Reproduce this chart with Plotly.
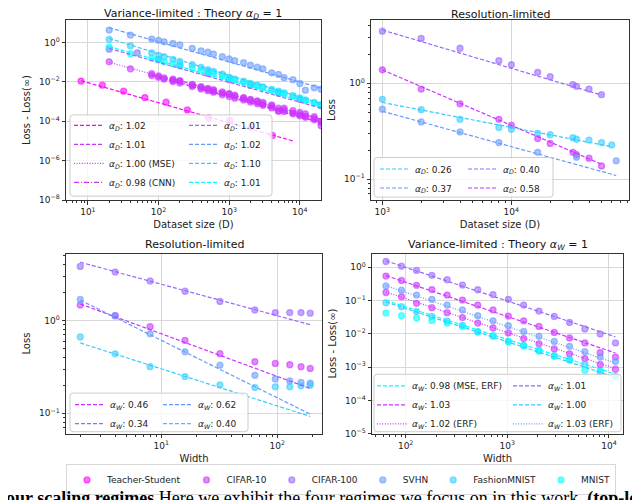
import numpy as np
import plotly.graph_objects as go

W, H = 640, 500

# colours: six steps of matplotlib's "cool" map
col_ts, col_c10, col_c100 = '#ff00ff', '#cc33ff', '#9966ff'
col_svhn, col_fm, col_mn = '#6699ff', '#33ccff', '#00ffff'

# fit entries are [x_start, x_end, value at x_start, exponent]

# --- top-left: variance-limited vs dataset size
ts_d = [8, 16, 32, 64, 128, 256, 512, 1024, 2048, 4096]
ts_loss = [1.1e-2, 6.8e-3, 3.4e-3, 1.6e-3, 9.3e-4, 3.8e-4, 1.5e-4, 1.1e-4, 5.0e-5, 1.9e-5]
ts_fit = [8, 8192, 1.15e-2, 1.02]

tl_d = [20, 40, 80, 100, 120, 160, 200, 300, 400, 500, 600, 800, 1000,
        1200, 1600, 2000, 2500, 3000, 4000, 5000, 6000, 8000, 10000, 12000, 16000, 20000]
tl_svhn = [4.3, 2.4, 1.5, 1.3, 1.08, 0.89, 0.76, 0.50, 0.38, 0.32,
           0.26, 0.19, 0.146, 0.12, 0.095, 0.07, 0.056, 0.046, 0.029, 0.024,
           0.0165, 0.013, 0.0083, 0.0038, 0.005, 0.0043]
tl_fm = [1.46, 0.68, 0.30, 0.22, 0.19, 0.14, 0.11, 0.075, 0.055, 0.042,
         0.034, 0.025, 0.017, 0.014, 0.011, 0.0085, 0.0068, 0.0056, 0.0042, 0.0034,
         0.0028, 0.0020, 0.0015, 0.0012, 0.00085, 0.0006]
tl_mn = [0.6, 0.27, 0.16, 0.13, 0.105, 0.083, 0.068, 0.05, 0.038, 0.031,
         0.026, 0.02, 0.015, 0.012, 0.0095, 0.0075, 0.0062, 0.005, 0.0038, 0.0031,
         0.0025, 0.0019, 0.0015, 0.0012, 0.0009, 0.00072]
tl_c10_mse = [0.105, 0.046, 0.026, 0.02, 0.016, 0.012, 0.011, 0.0068, 0.0052, 0.0042,
              0.0035, 0.0027, 0.0024, 0.0019, 0.0015, 0.0012, 0.001, 0.00076, 0.0006, 0.00046,
              0.00038, 0.00026, 0.00022, 0.00018, 0.00014, 0.0001]
tl_c10_d = tl_d[2:]
tl_c10 = [0.021, 0.017, 0.014, 0.0105, 0.0088, 0.0058, 0.0044, 0.0036,
          0.003, 0.0022, 0.0018, 0.0015, 0.0012, 0.00095, 0.00078, 0.00065, 0.00048, 0.00032,
          0.00031, 0.00024, 0.00019, 0.00016, 0.00012, 0.00009]
tl_c10_cnn_d = tl_d[5:]
tl_c10_cnn = [0.014, 0.0115, 0.0075, 0.0058, 0.0047,
              0.004, 0.0031, 0.0025, 0.0021, 0.0016, 0.0013, 0.0011, 0.0009, 0.00068, 0.00034,
              0.00046, 0.00035, 0.00028, 0.00024, 0.00017, 0.00006]
tl_c100_d = [20, 50, 100, 200, 500, 1000, 2000, 5000, 10000, 20000]
tl_c100 = [0.46, 0.30, 0.14, 0.068, 0.027, 0.013, 0.0066, 0.0027, 0.0013, 0.00066]

tl_c10_fit = [80, 20000, 0.022, 1.01]
tl_c10_mse_fit = [20, 20000, 0.10, 1.00]
tl_c10_cnn_fit = [160, 20000, 0.0145, 0.98]
tl_c100_fit = [20, 20000, 0.5, 1.01]
tl_svhn_fit = [20, 20000, 5.6, 1.02]
tl_fm_fit = [20, 20000, 1.6, 1.10]
tl_mn_fit = [20, 20000, 0.62, 1.01]

# --- top-right: resolution-limited vs dataset size
tr_d = [1000, 2000, 4000, 8000, 10000, 16000, 20000, 30000, 32000, 40000, 50000]
tr_c100 = [3.5, 2.94, 2.32, 1.72, 1.56, 1.30, 1.17, 0.97, 0.93, 0.87, 0.76]
tr_c10 = [1.38, 0.87, 0.61, 0.42, 0.365, 0.265, 0.235, 0.19, 0.18, 0.165, 0.137]
tr_fm_d = tr_d + [60000]
tr_fm = [0.68, 0.53, 0.42, 0.345, 0.33, 0.30, 0.29, 0.27, 0.26, 0.255, 0.24, 0.227]
tr_svhn_d = [1000, 2000, 4000, 8000, 16000, 32000, 65000]
tr_svhn = [0.535, 0.395, 0.31, 0.24, 0.19, 0.169, 0.155]
tr_c100_fit = [1000, 50000, 3.6, 0.40]
tr_c10_fit = [1000, 50000, 1.38, 0.58]
tr_fm_fit = [1000, 60000, 0.63, 0.26]
tr_svhn_fit = [1000, 65000, 0.51, 0.37]

# --- bottom-left: resolution-limited vs width
bl_w = [2, 4, 8, 16, 32, 64, 96, 128, 160, 192]
bl_c100 = [3.84, 3.33, 2.67, 2.07, 1.61, 1.30, 1.22, 1.22, 1.22, 1.20]
bl_c10 = [1.47, 1.13, 0.86, 0.61, 0.44, 0.36, 0.345, 0.334, 0.318, 0.305]
bl_svhn = [1.69, 1.13, 0.72, 0.46, 0.33, 0.257, 0.234, 0.223, 0.215, 0.211]
bl_fm = [0.665, 0.438, 0.318, 0.249, 0.202, 0.19, 0.193, 0.193, 0.198, 0.201]
bl_c100_fit = [2, 192, 4.26, 0.34]
bl_c10_fit = [2, 192, 1.51, 0.46]
bl_svhn_fit = [2, 192, 1.66, 0.62]
bl_fm_fit = [2, 192, 0.574, 0.40]

# --- bottom-right: variance-limited vs width
br_w = [64, 91, 128, 181, 256, 362, 512, 724, 1024, 1448, 2048, 2896, 4096, 5793, 8192, 11585]
br_c100 = [1.48, 1.07, 0.80, 0.57, 0.42, 0.29, 0.21, 0.15, 0.108, 0.073, 0.048, 0.033, 0.022, 0.0139, 0.0099, 0.0053]
br_c10 = [0.54, 0.40, 0.286, 0.213, 0.145, 0.103, 0.073, 0.052, 0.034, 0.0245, 0.0166, 0.011, 0.0075, 0.0053, 0.0027, 0.0020]
br_svhn_erf = [0.273, 0.204, 0.145, 0.108, 0.073, 0.052, 0.035, 0.0245, 0.0174, 0.0118, 0.0084, 0.0059, 0.0042, 0.0029, 0.0020, 0.00146]
br_c10_erf = [0.174, 0.129, 0.082, 0.061, 0.043, 0.0307, 0.0209, 0.0149, 0.0106, 0.0072, 0.0050, 0.0035, 0.0025, 0.0018, 0.0012, 0.00086]
br_fm = [0.0855, 0.065, 0.047, 0.033, 0.024, 0.018, 0.0115, 0.0085, 0.006, 0.0045, 0.0032, 0.0022, 0.0017, 0.0012, 0.00075, 0.00052]
br_mn = [0.042, 0.035, 0.030, 0.025, 0.021, 0.0166, 0.0115, 0.0088, 0.0058, 0.0043, 0.003, 0.0021, 0.0016, 0.0008, 0.0007, 0.0005]
br_c100_fit = [64, 11585, 1.55, 1.01]
br_c10_fit = [64, 11585, 0.56, 1.03]
br_c10_erf_fit = [64, 11585, 0.18, 1.02]
br_svhn_erf_fit = [64, 11585, 0.28, 1.03]
br_fm_fit = [64, 11585, 0.09, 1.00]
br_mn_fit = [64, 11585, 0.10, 0.98]

dataset_names = ['Teacher-Student', 'CIFAR-10', 'CIFAR-100', 'SVHN', 'FashionMNIST', 'MNIST']


def px_x(v):
    return v / W


def px_y(v):
    return 1 - v / H


def rgba(hex_col, a):
    h = hex_col.lstrip('#')
    return f"rgba({int(h[0:2], 16)},{int(h[2:4], 16)},{int(h[4:6], 16)},{a})"


def pow_labels(exps):
    return [f"10<sup>{str(e).replace('-', '−')}</sup>" for e in exps]


def minors(lo, hi):
    return [m * 10.0 ** e for e in range(lo, hi) for m in range(2, 10)]


fig = go.Figure()


def points(x, y, color, ax, name=None):
    fig.add_trace(go.Scatter(
        x=x, y=y, mode='markers', xaxis='x' + ax, yaxis='y' + ax,
        marker=dict(size=6, color=rgba(color, 0.58), line=dict(width=1.3, color=rgba(color, 0.58))),
        name=name, showlegend=name is not None, legend='legend', hoverinfo='skip'))


dash_styles = {'dash': '4px,2px', 'dot': '1px,1.6px', 'dashdot': '5px,2px,1px,2px'}


def fit_line(fit, color, ax, legend, label, style='dash'):
    x0, x1, a, alpha = fit
    xs = np.geomspace(x0, x1, 20)
    fig.add_trace(go.Scatter(
        x=xs, y=a * (xs / x0) ** (-alpha), mode='lines', xaxis='x' + ax, yaxis='y' + ax,
        line=dict(color=color, width=1.2, dash=dash_styles[style]),
        name=label, legend=legend, hoverinfo='skip'))


aD = '<i>α<sub>D</sub></i>: '
aW = '<i>α<sub>W</sub></i>: '

# markers (top-left also carries the shared dataset legend)
points(ts_d, ts_loss, col_ts, '', dataset_names[0])
points(tl_c10_d, tl_c10, col_c10, '', dataset_names[1])
points(tl_d, tl_c10_mse, col_c10, '')
points(tl_c10_cnn_d, tl_c10_cnn, col_c10, '')
points(tl_c100_d, tl_c100, col_c100, '', dataset_names[2])
points(tl_d, tl_svhn, col_svhn, '', dataset_names[3])
points(tl_d, tl_fm, col_fm, '', dataset_names[4])
points(tl_d, tl_mn, col_mn, '', dataset_names[5])

points(tr_d, tr_c100, col_c100, '2')
points(tr_d, tr_c10, col_c10, '2')
points(tr_fm_d, tr_fm, col_fm, '2')
points(tr_svhn_d, tr_svhn, col_svhn, '2')

points(bl_w, bl_c100, col_c100, '3')
points(bl_w, bl_c10, col_c10, '3')
points(bl_w, bl_svhn, col_svhn, '3')
points(bl_w, bl_fm, col_fm, '3')

points(br_w, br_c100, col_c100, '4')
points(br_w, br_c10, col_c10, '4')
points(br_w, br_svhn_erf, col_svhn, '4')
points(br_w, br_c10_erf, col_c10, '4')
points(br_w, br_fm, col_fm, '4')
points(br_w, br_mn, col_mn, '4')

# fit lines, two legend columns per panel
fit_line(ts_fit, col_ts, '', 'legend2', aD + '1.02')
fit_line(tl_c10_fit, col_c10, '', 'legend2', aD + '1.01')
fit_line(tl_c10_mse_fit, col_c10, '', 'legend2', aD + '1.00 (MSE)', 'dot')
fit_line(tl_c10_cnn_fit, col_c10, '', 'legend2', aD + '0.98 (CNN)', 'dashdot')
fit_line(tl_c100_fit, col_c100, '', 'legend3', aD + '1.01')
fit_line(tl_svhn_fit, col_svhn, '', 'legend3', aD + '1.02')
fit_line(tl_fm_fit, col_fm, '', 'legend3', aD + '1.10')
fit_line(tl_mn_fit, col_mn, '', 'legend3', aD + '1.01')

fit_line(tr_fm_fit, col_fm, '2', 'legend4', aD + '0.26')
fit_line(tr_svhn_fit, col_svhn, '2', 'legend4', aD + '0.37')
fit_line(tr_c100_fit, col_c100, '2', 'legend5', aD + '0.40')
fit_line(tr_c10_fit, col_c10, '2', 'legend5', aD + '0.58')

fit_line(bl_c10_fit, col_c10, '3', 'legend6', aW + '0.46')
fit_line(bl_c100_fit, col_c100, '3', 'legend6', aW + '0.34')
fit_line(bl_svhn_fit, col_svhn, '3', 'legend7', aW + '0.62')
fit_line(bl_fm_fit, col_fm, '3', 'legend7', aW + '0.40')

fit_line(br_mn_fit, col_mn, '4', 'legend8', aW + '0.98 (MSE, ERF)')
fit_line(br_c10_fit, col_c10, '4', 'legend8', aW + '1.03')
fit_line(br_c10_erf_fit, col_c10, '4', 'legend8', aW + '1.02 (ERF)', 'dot')
fit_line(br_c100_fit, col_c100, '4', 'legend9', aW + '1.01')
fit_line(br_fm_fit, col_fm, '4', 'legend9', aW + '1.00')
fit_line(br_svhn_erf_fit, col_svhn, '4', 'legend9', aW + '1.03 (ERF)', 'dot')


def axis(dom_px, rng, anchor, exps, minor_vals, title, standoff, horizontal=True):
    if horizontal:
        domain = [px_x(dom_px[0]), px_x(dom_px[1])]
    else:
        domain = [px_y(dom_px[1]), px_y(dom_px[0])]
    return dict(
        type='log', domain=domain, range=rng, anchor=anchor,
        tickmode='array', tickvals=[10.0 ** e for e in exps], ticktext=pow_labels(exps),
        ticks='outside', ticklen=3.5, tickwidth=1, tickcolor='#333',
        minor=dict(tickmode='array', tickvals=minor_vals, ticks='outside', ticklen=2,
                   tickwidth=0.8, tickcolor='#333', showgrid=False),
        showline=True, linecolor='#333', linewidth=1, mirror=True,
        showgrid=True, gridcolor='#d8d8d8', gridwidth=1, zeroline=False,
        tickfont=dict(size=9, color='#222'),
        title=dict(text=title, font=dict(size=10, color='#222'), standoff=standoff))


def legend_col(xpx, ypx):
    return dict(x=px_x(xpx), y=px_y(ypx), xanchor='left', yanchor='top',
                bgcolor='rgba(0,0,0,0)', borderwidth=0, itemwidth=30,
                font=dict(size=9, color='#222'))


def box(x0, y0, x1, y1, r=3):
    X, Y = px_x, px_y
    p = (f"M{X(x0 + r)},{Y(y0)} L{X(x1 - r)},{Y(y0)} Q{X(x1)},{Y(y0)} {X(x1)},{Y(y0 + r)} "
         f"L{X(x1)},{Y(y1 - r)} Q{X(x1)},{Y(y1)} {X(x1 - r)},{Y(y1)} L{X(x0 + r)},{Y(y1)} "
         f"Q{X(x0)},{Y(y1)} {X(x0)},{Y(y1 - r)} L{X(x0)},{Y(y0 + r)} Q{X(x0)},{Y(y0)} {X(x0 + r)},{Y(y0)} Z")
    return dict(type='path', xref='paper', yref='paper', path=p, layer='above',
                fillcolor='rgba(255,255,255,0.8)', line=dict(color='#cccccc', width=1))


def title(text, xc, yc):
    return dict(text=text, x=px_x(xc), y=px_y(yc), xref='paper', yref='paper',
                xanchor='center', yanchor='middle', showarrow=False,
                font=dict(size=11, color='#111'))


fig.update_layout(
    width=W, height=H, autosize=False,
    margin=dict(l=0, r=0, t=0, b=0),
    paper_bgcolor='white', plot_bgcolor='white',
    font=dict(family='DejaVu Sans', color='#222'),
    hovermode=False,
    xaxis=axis([58, 313], [0.69, 4.30], 'y', [1, 2, 3, 4], minors(0, 5), 'Dataset size (D)', 4),
    yaxis=axis([12, 194], [-8, 1.15], 'x', [-8, -6, -4, -2, 0], [], 'Loss - Loss(∞)', 6, False),
    xaxis2=axis([363, 621], [2.912, 4.912], 'y2', [3, 4], minors(2, 5), 'Dataset size (D)', 4),
    yaxis2=axis([12, 194], [-1.22, 0.662], 'x2', [-1, 0], minors(-2, 1), 'Loss', 6, False),
    xaxis3=axis([58, 314], [0.178, 2.385], 'y3', [1, 2], minors(0, 3), 'Width', 4),
    yaxis3=axis([248, 430], [-1.22, 0.723], 'x3', [-1, 0], minors(-2, 1), 'Loss', 6, False),
    xaxis4=axis([364, 615], [1.669, 4.138], 'y4', [2, 3, 4], minors(1, 5), 'Width', 4),
    yaxis4=axis([248, 430], [-5, 0.41], 'x4', [-5, -4, -3, -2, -1, 0], [], 'Loss - Loss(∞)', 6, False),
    legend=dict(orientation='h', x=px_x(333), y=px_y(461), xanchor='center', yanchor='top',
                bgcolor='white', bordercolor='#d8d8d8', borderwidth=1,
                font=dict(size=9, color='#222')),
    legend2=legend_col(61, 104),
    legend3=legend_col(176, 104),
    legend4=legend_col(367, 148),
    legend5=legend_col(455, 148),
    legend6=legend_col(62, 386),
    legend7=legend_col(150, 386),
    legend8=legend_col(364, 367),
    legend9=legend_col(500, 367),
    shapes=[box(62, 108, 264, 190), box(366, 151, 545, 191),
            box(62, 389, 240, 428), box(366, 370, 613, 428)],
    annotations=[
        title('Variance-limited : Theory <i>α<sub>D</sub></i> = 1', 185, 6.5),
        title('Resolution-limited', 492, 6.5),
        title('Resolution-limited', 186, 239),
        title('Variance-limited : Theory <i>α<sub>W</sub></i> = 1', 490, 239),
        dict(text='<b>Four scaling regimes</b> Here we exhibit the four regimes we focus on in this work. '
                  '<b>(top-left)</b>',
             x=px_x(-15), y=px_y(483), xref='paper', yref='paper', xanchor='left', yanchor='top',
             showarrow=False, font=dict(family='Liberation Serif', size=18, color='black')),
    ],
)

fig.write_html("out.html")
